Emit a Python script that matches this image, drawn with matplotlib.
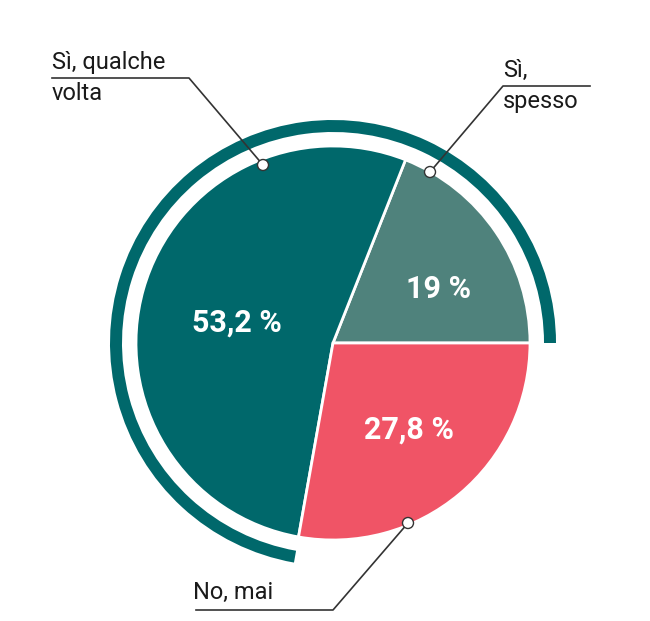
import matplotlib
matplotlib.use("Agg")
import matplotlib.pyplot as plt
from matplotlib.patches import Wedge, Circle

categories = ["Sì, spesso", "Sì, qualche volta", "No, mai"]
values = [19.0, 53.2, 27.8]
value_labels = ["19 %", "53,2 %", "27,8 %"]
colors = ["#4f827c", "#00686b", "#f05466"]

W, H = 650, 621
fig = plt.figure(figsize=(W / 100, H / 100), dpi=100)
ax = fig.add_axes([0, 0, 1, 1])

cx, cy, R = 333, H - 343, 197

wedges, _ = ax.pie(values, colors=colors, startangle=0, counterclock=True,
                   center=(cx, cy), radius=R, frame=True,
                   wedgeprops=dict(edgecolor="white", linewidth=2))
ax.set_xlim(0, W)
ax.set_ylim(0, H)
ax.set_aspect("equal")
ax.axis("off")

# outer ring over the "Sì" answers
yes_share = values[0] + values[1]
ring = Wedge((cx, cy), 223, 0, 360 * yes_share / 100, width=12,
             facecolor="#00686b", edgecolor="none")
ax.add_patch(ring)

# value labels
lab_pos = [(438, 289), (237, 323), (409, 430)]
for (x, y), t in zip(lab_pos, value_labels):
    ax.text(x, H - y, t, ha="center", va="center", color="white",
            fontsize=22, fontweight="bold", family="Roboto")

line_c = "#333333"
txt_c = "#1a1a1a"
fs = 17

# Sì, qualche volta
ax.text(52, H - 74, "Sì, qualche", ha="left", va="bottom", fontsize=fs,
        color=txt_c, family="Roboto")
ax.text(52, H - 82, "volta", ha="left", va="top", fontsize=fs,
        color=txt_c, family="Roboto")
ax.plot([52, 189, 263], [H - 78, H - 78, H - 165], color=line_c, lw=1.2)
ax.add_patch(Circle((263, H - 165), 5.5, facecolor="white", edgecolor=line_c, lw=1, zorder=5))

# Sì, spesso
ax.text(503, H - 82, "Sì,", ha="left", va="bottom", fontsize=fs,
        color=txt_c, family="Roboto")
ax.text(503, H - 90, "spesso", ha="left", va="top", fontsize=fs,
        color=txt_c, family="Roboto")
ax.plot([590, 503, 430], [H - 86, H - 86, H - 172], color=line_c, lw=1.2)
ax.add_patch(Circle((430, H - 172), 5.5, facecolor="white", edgecolor=line_c, lw=1, zorder=5))

# No, mai
ax.text(193, H - 604, "No, mai", ha="left", va="bottom", fontsize=fs,
        color=txt_c, family="Roboto")
ax.plot([196, 333, 408], [H - 610, H - 610, H - 523], color=line_c, lw=1.2)
ax.add_patch(Circle((408, H - 523), 5.5, facecolor="white", edgecolor=line_c, lw=1, zorder=5))

fig.savefig("out.png", dpi=100)
